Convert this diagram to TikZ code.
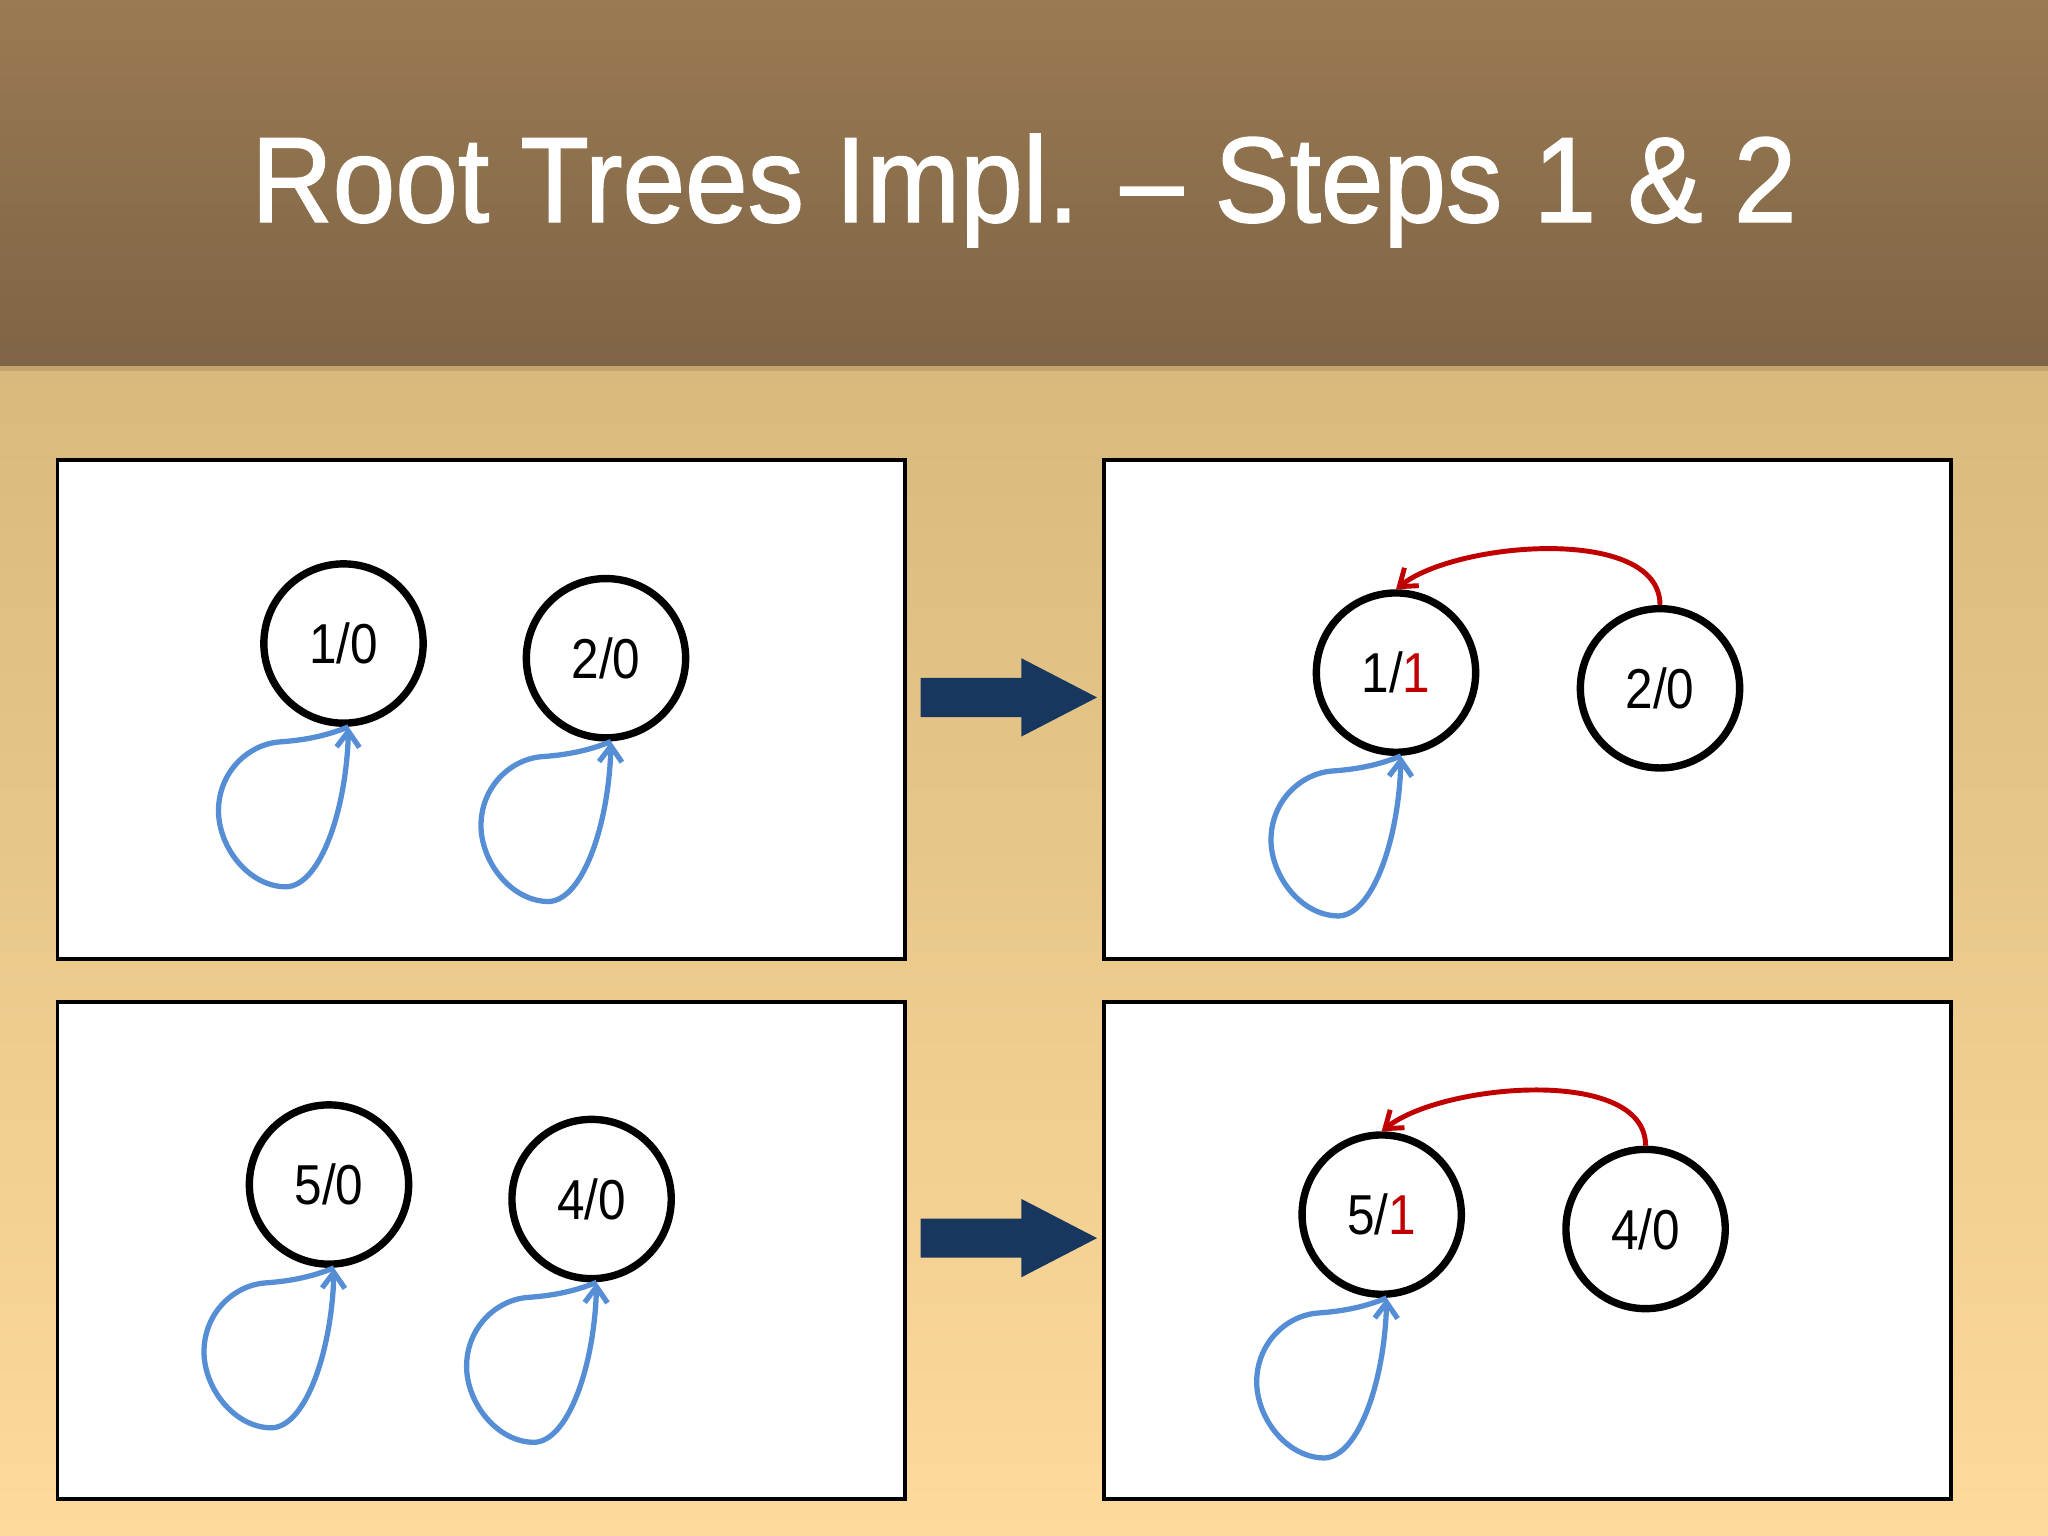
\documentclass[tikz,border=0pt]{standalone}
\usepackage{fontspec}
\setmainfont{Liberation Sans}
\newfontfamily\titlefont{Liberation Sans}[FakeStretch=0.925,
  BoldFont={Liberation Sans},BoldFeatures={FakeBold=1.2,FakeStretch=0.925}]
\newfontfamily\nodefont{Liberation Sans}[FakeStretch=0.88]
\usetikzlibrary{arrows.meta}
\definecolor{hdrtop}{HTML}{9A7A52}
\definecolor{hdrbot}{HTML}{7E6446}
\definecolor{hdrline}{HTML}{C4A46E}
\definecolor{bgtop}{HTML}{D7BA7C}
\definecolor{bgbot}{HTML}{FEDA9C}
\definecolor{navy}{HTML}{17375E}
\definecolor{loopblue}{HTML}{558ED5}
\definecolor{arcred}{HTML}{C00000}
\begin{document}
\begin{tikzpicture}[x=0.01cm,y=-0.01cm,>={Straight Barb[length=4.5pt,width=6.5pt]},
  panel/.style={draw=black,fill=white,line width=1.1pt},
  rnode/.style={circle,draw=black,line width=2.1pt,minimum size=45.3pt,inner sep=0pt,
    font=\nodefont\fontsize{16}{19}\selectfont},
  selfptr/.style={draw=loopblue,line width=1.5pt,<-},
  rankptr/.style={draw=arcred,line width=1.4pt,->},
  bigarrow/.style={fill=navy}]
  \useasboundingbox (0,0) rectangle (2048,1536);
  % background and header
  \shade[top color=hdrtop,bottom color=hdrbot] (0,0) rectangle (2048,368);
  \shade[top color=bgtop,bottom color=bgbot] (0,368) rectangle (2048,1536);
  \fill[hdrline] (0,366) rectangle (2048,371);
  \node[anchor=base,text=white,font=\titlefont\bfseries\fontsize{34.6}{40}\selectfont] (title) at (1024,222)
    {Root Trees Impl. \textendash{} Steps 1 \& 2};
  % panels
  \draw[panel] (57.5,460) rectangle (905,958.6);
  \draw[panel] (1103.6,460) rectangle (1951,958.6);
  \draw[panel] (57.5,1001.7) rectangle (905,1499.3);
  \draw[panel] (1103.6,1001.7) rectangle (1951,1499.3);
  % step arrows
  \foreach \dy in {0,540.7}
    \fill[bigarrow,shift={(0,\dy)}] (920.7,677.8) -- (1021.3,677.8) -- (1021.3,658.2)
      -- (1097,697.4) -- (1021.3,736.6) -- (1021.3,717) -- (920.7,717) -- cycle;
  % trees
  \node[rnode] (a1) at (343.5,643.5) {1/0};
  \node[rnode] (a2) at (606,658.2) {2/0};
  \node[rnode] (b1) at (1396,672.6) {1/\textcolor{arcred}{1}};
  \node[rnode] (b2) at (1660,688.3) {2/0};
  \node[rnode] (c1) at (329,1184.5) {5/0};
  \node[rnode] (c2) at (591.6,1199) {4/0};
  \node[rnode] (d1) at (1381.7,1214.6) {5/\textcolor{arcred}{1}};
  \node[rnode] (d2) at (1645.6,1229) {4/0};
  % parent pointers
  \foreach \n in {a1,a2,b1,c1,c2,d1}
    \draw[selfptr,shift={(\n.south)}] (5,0) .. controls (3,80) and (-22,158) .. (-57,160)
      .. controls (-95,160) and (-125,120) .. (-125,84)
      .. controls (-125,45) and (-95,17) .. (-63,15)
      .. controls (-35,13) and (-15,8) .. (5,0);
  \draw[rankptr] (b2.north) .. controls +(0,-80) and +(60,-48) .. (b1.north);
  \draw[rankptr] (d2.north) .. controls +(0,-80) and +(60,-48) .. (d1.north);
\end{tikzpicture}
\end{document}
